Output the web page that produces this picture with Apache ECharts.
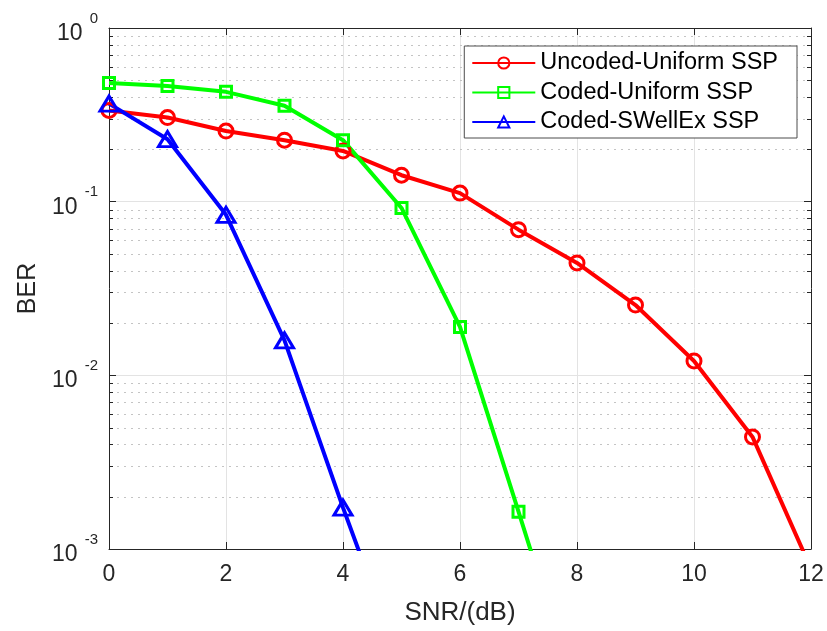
<!DOCTYPE html>
<html>
<head>
<meta charset="utf-8">
<script src="https://cdn.jsdelivr.net/npm/echarts@6/dist/echarts.min.js"></script>
<style>
  html, body { margin: 0; padding: 0; background: #fff; }
  #chart { width: 827px; height: 631px; }
</style>
</head>
<body>
<div id="chart"></div>
<script>
// SNR (dB) sample points for each curve
const snrUncoded = [0, 1, 2, 3, 4, 5, 6, 7, 8, 9, 10, 11, 12];
const berUncoded = [0.335, 0.305, 0.255, 0.226, 0.196, 0.142, 0.112, 0.069, 0.0444, 0.0254, 0.0121, 0.00442, 0.00077];

const snrCodedUniform = [0, 1, 2, 3, 4, 5, 6, 7, 8];
const berCodedUniform = [0.482, 0.464, 0.429, 0.357, 0.226, 0.092, 0.019, 0.00164, 0.00014];

const snrCodedSWellEx = [0, 1, 2, 3, 4, 5];
const berCodedSWellEx = [0.367, 0.229, 0.084, 0.0159, 0.00173, 0.00021];

const seriesNames = ['Uncoded-Uniform SSP', 'Coded-Uniform SSP', 'Coded-SWellEx SSP'];

// axis ranges and tick values
const xMin = 0, xMax = 12, xStep = 2;
const yMin = 0.001, yMax = 1;
const minorMultipliers = [2, 3, 4, 5, 6, 7, 8, 9];
const decades = [-3, -2, -1];

const minorValues = [];
decades.forEach(d => minorMultipliers.forEach(m => minorValues.push(m * Math.pow(10, d))));

const pair = (xs, ys) => xs.map((x, i) => [x, ys[i]]);

const FONT = '"Liberation Sans", Arial, Helvetica, sans-serif';
const AXIS_COLOR = '#262626';

const chart = echarts.init(document.getElementById('chart'), null, { renderer: 'canvas' });

const yLabelFormatter = v => {
  const e = Math.round(Math.log10(v));
  return '{b|10}{s|' + e + '}';
};

function lineSeries(name, data, color, symbol, size) {
  return {
    name: name,
    type: 'line',
    data: data,
    clip: true,
    showAllSymbol: true,
    symbol: symbol,
    symbolSize: size,
    color: color,
    lineStyle: { color: color, width: 4 },
    itemStyle: { color: 'rgba(255,255,255,0)', borderColor: color, borderWidth: 3 },
    emphasis: { disabled: true },
    animation: false,
    z: 5
  };
}

const option = {
  animation: false,
  backgroundColor: '#ffffff',
  grid: { left: 109, right: 16, top: 28, bottom: 73, containLabel: false },
  legend: {
    data: seriesNames,
    orient: 'vertical',
    right: 30,
    top: 46,
    itemWidth: 63,
    itemHeight: 14,
    itemGap: 5.5,
    padding: [5, 19, 4, 7],
    backgroundColor: '#ffffff',
    borderColor: '#4d4d4d',
    borderWidth: 1,
    borderRadius: 0,
    textStyle: { fontFamily: FONT, fontSize: 23.5, color: '#000000', lineHeight: 24 },
    z: 10
  },
  xAxis: [
    {
      type: 'value', min: xMin, max: xMax, interval: xStep,
      name: 'SNR/(dB)', nameLocation: 'middle', nameGap: 51,
      nameTextStyle: { fontFamily: FONT, fontSize: 26, color: AXIS_COLOR },
      axisLine: { show: true, onZero: false, lineStyle: { color: AXIS_COLOR, width: 1 } },
      axisTick: { show: true, inside: true, length: 7, lineStyle: { color: AXIS_COLOR } },
      axisLabel: { fontFamily: FONT, fontSize: 23, color: AXIS_COLOR, margin: 14 },
      splitLine: { show: true, lineStyle: { color: '#e3e3e3', width: 1 } }
    },
    {
      type: 'value', min: xMin, max: xMax, interval: xStep, position: 'top',
      axisLine: { show: true, onZero: false, lineStyle: { color: AXIS_COLOR, width: 1 } },
      axisTick: { show: true, inside: true, length: 7, lineStyle: { color: AXIS_COLOR } },
      axisLabel: { show: false },
      splitLine: { show: false }
    }
  ],
  yAxis: [
    {
      type: 'log', logBase: 10, min: yMin, max: yMax,
      name: 'BER', nameLocation: 'middle', nameGap: 68,
      nameTextStyle: { fontFamily: FONT, fontSize: 25, color: AXIS_COLOR },
      axisLine: { show: true, onZero: false, lineStyle: { color: AXIS_COLOR, width: 1 } },
      axisTick: { show: true, inside: true, length: 7, lineStyle: { color: AXIS_COLOR } },
      axisLabel: {
        formatter: yLabelFormatter, margin: 11,
        rich: {
          b: { fontFamily: FONT, fontSize: 23, color: AXIS_COLOR, verticalAlign: 'bottom', lineHeight: 34, padding: [10, 7, 0, 0] },
          s: { fontFamily: FONT, fontSize: 15, color: AXIS_COLOR, verticalAlign: 'top', lineHeight: 34, padding: [0, 0, 16, 0] }
        }
      },
      splitLine: { show: true, lineStyle: { color: '#e3e3e3', width: 1 } }
    },
    {
      type: 'log', logBase: 10, min: yMin, max: yMax, position: 'right',
      axisLine: { show: true, onZero: false, lineStyle: { color: AXIS_COLOR, width: 1 } },
      axisTick: { show: true, inside: true, length: 7, lineStyle: { color: AXIS_COLOR } },
      axisLabel: { show: false },
      splitLine: { show: false }
    }
  ],
  series: [
    {
      // minor decade grid (dotted) plus short inward minor ticks on both y axes
      name: 'minorGrid',
      type: 'custom',
      data: [[xMin, yMax]],
      encode: { x: 0, y: 1 },
      silent: true,
      z: 1,
      renderItem: function (params, api) {
        const children = [];
        minorValues.forEach(v => {
          const left = api.coord([xMin, v]);
          const right = api.coord([xMax, v]);
          const y = Math.round(left[1]) + 0.5;
          children.push(
            { type: 'line', shape: { x1: left[0] + 1, y1: y, x2: right[0], y2: y },
              style: { stroke: '#c4c4c4', lineWidth: 1, lineDash: [2, 5] } },
            { type: 'line', shape: { x1: left[0], y1: y, x2: left[0] + 4, y2: y },
              style: { stroke: AXIS_COLOR, lineWidth: 1 } },
            { type: 'line', shape: { x1: right[0] - 4, y1: y, x2: right[0], y2: y },
              style: { stroke: AXIS_COLOR, lineWidth: 1 } }
          );
        });
        return { type: 'group', children: children };
      }
    },
    lineSeries(seriesNames[0], pair(snrUncoded, berUncoded), '#ff0000', 'circle', 14),
    lineSeries(seriesNames[1], pair(snrCodedUniform, berCodedUniform), '#00ff00', 'rect', 11),
    lineSeries(seriesNames[2], pair(snrCodedSWellEx, berCodedSWellEx), '#0000ff', 'triangle', [18, 15])
  ]
};

chart.setOption(option);
</script>
</body>
</html>
